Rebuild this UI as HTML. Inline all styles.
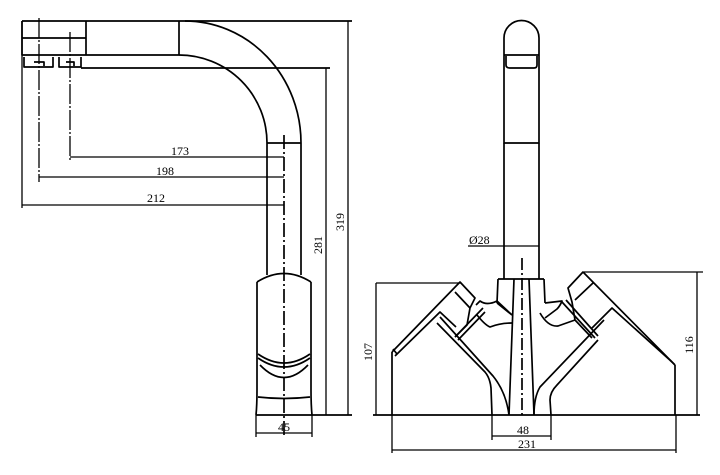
<!DOCTYPE html>
<html><head><meta charset="utf-8"><style>
html,body{margin:0;padding:0;background:#fff;}
svg{display:block;}
text{font-family:"Liberation Serif",serif;font-size:12px;fill:#000;}
</style></head><body>
<svg width="720" height="475" viewBox="0 0 720 475" xmlns="http://www.w3.org/2000/svg">
<g fill="none" stroke="#000" stroke-width="1.7" stroke-linejoin="round">
<!-- LEFT VIEW -->
<path d="M22 21 H352"/>
<path d="M22 21 V55 H179 V21"/>
<path d="M22 38 H86 M86 21 V55"/>
<path d="M185 21 A116 122 0 0 1 301 143"/>
<path d="M179 55 A88 88 0 0 1 267 143"/>
<path d="M267 143 V275 M301 143 V275 M267 143 H301"/>
<path d="M24 57 V67 H53 V57 M59 57 V67 H81 V57"/>
<path d="M34 62 H44 V66 M66 62 H74 V66"/>
<path d="M81 68 H330"/>
<path d="M284 135 V435" stroke-dasharray="14 3 2 3"/>
<path d="M39 18 V182 M70 32 V160" stroke-dasharray="20 2 2 2" stroke-width="1.3"/>
<path d="M22 21 V208" stroke-width="1.3"/>
<path d="M70 157 H284 M39 177 H284 M22 205 H284" stroke-width="1.3"/>
<!-- lower body -->
<path d="M257 282 Q284 265 311 282"/>
<path d="M257 282 V390 Q257 405 256 415 M311 282 V390 Q311 405 312 415"/>
<path d="M258 354 Q284 372 310 354 M258 358 Q284 376 310 358"/>
<path d="M260 365 Q284 390 308 365"/>
<path d="M258 397 Q284 400 310 397"/>
<path d="M256 415 H352"/>
<path d="M256 415 V437 M312 415 V437 M256 433 H312" stroke-width="1.3"/>
<path d="M326 68 V415 M348 21 V415" stroke-width="1.3"/>

<!-- RIGHT VIEW -->
<path d="M504 143 V38 A17.5 17.5 0 0 1 539 38 V143 Z"/>
<path d="M504 55 H539 M506 56 V65 Q506 68 510 68 H534 Q537 68 537 65 V56"/>
<path d="M504 143 V279 M539 143 V279"/>
<path d="M468 246 H539" stroke-width="1.3"/>
<path d="M498 279 H544 M498 279 L497 303 M544 279 L545 303"/>
<path d="M514 279 L509 415 M529 279 L534 415"/>
<path d="M522 258 V415" stroke-dasharray="12 3 2 3"/>
<path d="M373 415 H700"/>
<!-- left handle -->
<path d="M392 352 L460 282 L475 298 L470 308 L467 325 L455 337"/>
<path d="M395 356 L440 312 L456 327"/>
<path d="M393 349 L397 354"/>
<path d="M455 292 L470 308"/>
<path d="M437 323 L485 372 Q490 378 491 388 L492 415"/>
<path d="M455 337 L483 308 M458 340 L485 312"/>
<path d="M476 305 L480 301 Q487 306 497 301 L512 315"/>
<path d="M477 315 Q485 325 490 327 Q500 323 512 323"/>
<path d="M497 303 L512 315"/>
<path d="M440 317 L493 376 Q506 392 509 415"/>
<path d="M392 352 V415"/>
<!-- right handle -->
<path d="M675 365 L583 272 L568 288 L572 302 L575 320 L592 338"/>
<path d="M593 283 L575 300"/>
<path d="M672 362 L612 308 L592 328"/>
<path d="M670 360 L675 365"/>
<path d="M598 340 L557 385 Q550 392 550 400 L551 415"/>
<path d="M562 302 L595 338 M566 300 L598 336"/>
<path d="M545 303 L562 301 Q560 306 557 309 L545 318"/>
<path d="M540 313 Q548 327 558 326 L575 320"/>
<path d="M604 320 L540 387 Q534 397 534 415"/>
<path d="M675 365 V415"/>
<!-- dims right -->
<path d="M376 283 H461 M376 283 V415" stroke-width="1.3"/>
<path d="M584 272 H703 M697 272 V415" stroke-width="1.3"/>
<path d="M392 415 V453 M676 415 V453 M392 450 H676" stroke-width="1.3"/>
<path d="M492 415 V440 M551 415 V440 M492 436 H551" stroke-width="1.3"/>
</g>
<text x="180" y="155" text-anchor="middle">173</text>
<text x="165" y="175" text-anchor="middle">198</text>
<text x="156" y="202" text-anchor="middle">212</text>
<text x="284" y="431" text-anchor="middle">45</text>
<text transform="translate(322,245) rotate(-90)" text-anchor="middle">281</text>
<text transform="translate(344,222) rotate(-90)" text-anchor="middle">319</text>
<text x="469" y="244" font-size="13">Ø28</text>
<text transform="translate(372,352) rotate(-90)" text-anchor="middle">107</text>
<text transform="translate(693,345) rotate(-90)" text-anchor="middle">116</text>
<text x="523" y="434" text-anchor="middle">48</text>
<text x="527" y="448" text-anchor="middle">231</text>
</svg>
</body></html>
